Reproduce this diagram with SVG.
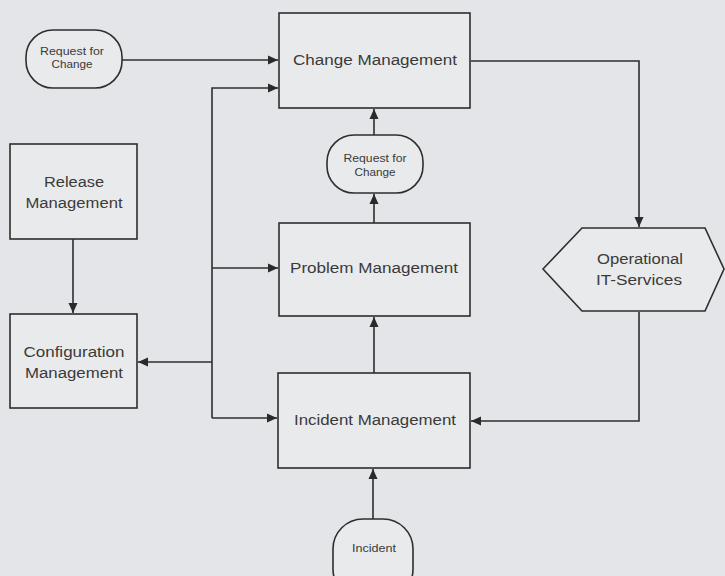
<svg xmlns="http://www.w3.org/2000/svg" width="725" height="576" viewBox="0 0 725 576">
  <style>
    .box { fill: #e9eaec; stroke: #2e2e2e; stroke-width: 1.6; }
    .lbl { font-family: "Liberation Sans", Arial, sans-serif; font-size: 14px; fill: #3a3a3a; text-anchor: middle; }
    .sml { font-family: "Liberation Sans", Arial, sans-serif; font-size: 11.5px; fill: #3a3a3a; text-anchor: middle; }
    .wire { fill: none; stroke: #2e2e2e; stroke-width: 1.6; }
  </style>
  <defs>
    <marker id="arr" viewBox="0 0 10 10" refX="10" refY="5" markerWidth="10" markerHeight="10" markerUnits="userSpaceOnUse" orient="auto">
      <path d="M0,0.5 L10,5 L0,9.5 z" fill="#2a2a2a"/>
    </marker>
  </defs>
  <rect width="725" height="576" fill="#e4e5e8"/>

  <g id="connectors">
    <path class="wire" d="M122,60 H278" marker-end="url(#arr)"/>
    <path class="wire" d="M212,418 V88 H278" marker-end="url(#arr)"/>
    <path class="wire" d="M212,268 H278" marker-end="url(#arr)"/>
    <path class="wire" d="M212,362 H138" marker-end="url(#arr)"/>
    <path class="wire" d="M212,418 H277" marker-end="url(#arr)"/>
    <path class="wire" d="M73,239 V313" marker-end="url(#arr)"/>
    <path class="wire" d="M374,135 V109" marker-end="url(#arr)"/>
    <path class="wire" d="M374,223 V194" marker-end="url(#arr)"/>
    <path class="wire" d="M374,373 V317" marker-end="url(#arr)"/>
    <path class="wire" d="M373,519 V469" marker-end="url(#arr)"/>
    <path class="wire" d="M471,61 H639 V227" marker-end="url(#arr)"/>
    <path class="wire" d="M639,312 V421 H471" marker-end="url(#arr)"/>
  </g>

  <g id="rfc-top">
    <rect class="box" x="26" y="30" width="96" height="58" rx="27" ry="27"/>
    <text class="sml" x="72" y="55" textLength="64" lengthAdjust="spacingAndGlyphs">Request for</text>
    <text class="sml" x="72" y="68" textLength="41" lengthAdjust="spacingAndGlyphs">Change</text>
  </g>

  <g id="change-management">
    <rect class="box" x="279" y="13" width="191" height="95"/>
    <text class="lbl" x="375" y="65" textLength="164" lengthAdjust="spacingAndGlyphs">Change Management</text>
  </g>

  <g id="rfc-middle">
    <rect class="box" x="327" y="135" width="96" height="58" rx="27" ry="27"/>
    <text class="sml" x="375" y="162" textLength="63" lengthAdjust="spacingAndGlyphs">Request for</text>
    <text class="sml" x="375" y="176" textLength="41" lengthAdjust="spacingAndGlyphs">Change</text>
  </g>

  <g id="release-management">
    <rect class="box" x="10" y="144" width="127" height="95"/>
    <text class="lbl" x="74" y="187" textLength="60" lengthAdjust="spacingAndGlyphs">Release</text>
    <text class="lbl" x="74" y="208" textLength="97" lengthAdjust="spacingAndGlyphs">Management</text>
  </g>

  <g id="problem-management">
    <rect class="box" x="279" y="223" width="191" height="93"/>
    <text class="lbl" x="374" y="273" textLength="168" lengthAdjust="spacingAndGlyphs">Problem Management</text>
  </g>

  <g id="operational-it-services">
    <polygon class="box" points="543,269 582,228 705,228 724,269 705,311 582,311"/>
    <text class="lbl" x="640" y="264" textLength="86" lengthAdjust="spacingAndGlyphs">Operational</text>
    <text class="lbl" x="639" y="285" textLength="86" lengthAdjust="spacingAndGlyphs">IT-Services</text>
  </g>

  <g id="configuration-management">
    <rect class="box" x="10" y="314" width="127" height="94"/>
    <text class="lbl" x="74" y="357" textLength="101" lengthAdjust="spacingAndGlyphs">Configuration</text>
    <text class="lbl" x="74" y="378" textLength="98" lengthAdjust="spacingAndGlyphs">Management</text>
  </g>

  <g id="incident-management">
    <rect class="box" x="278" y="373" width="192" height="95"/>
    <text class="lbl" x="375" y="425" textLength="162" lengthAdjust="spacingAndGlyphs">Incident Management</text>
  </g>

  <g id="incident">
    <rect class="box" x="333" y="519" width="80" height="80" rx="30" ry="30"/>
    <text class="sml" x="374" y="552" textLength="44" lengthAdjust="spacingAndGlyphs">Incident</text>
  </g>
</svg>
